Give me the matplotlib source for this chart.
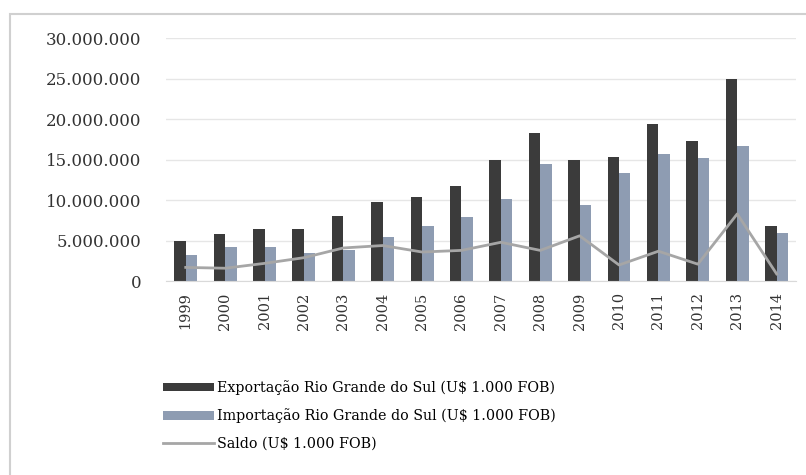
import numpy as np
import matplotlib.pyplot as plt
from matplotlib.patches import Rectangle
from matplotlib.ticker import FuncFormatter

anos = ['1999', '2000', '2001', '2002', '2003', '2004', '2005', '2006',
        '2007', '2008', '2009', '2010', '2011', '2012', '2013', '2014']
exportacao = [5.0, 5.8, 6.4, 6.4, 8.0, 9.8, 10.4, 11.7,
              14.9, 18.3, 15.0, 15.3, 19.4, 17.3, 25.0, 6.8]
importacao = [3.2, 4.2, 4.2, 3.5, 3.9, 5.4, 6.8, 7.9,
              10.1, 14.5, 9.4, 13.3, 15.7, 15.2, 16.7, 5.9]
saldo = [1.7, 1.6, 2.2, 2.9, 4.1, 4.4, 3.6, 3.8,
         4.8, 3.8, 5.6, 2.0, 3.7, 2.1, 8.3, 0.9]

# valores em milhoes (U$ 1.000 FOB)
exportacao = np.array(exportacao) * 1e6
importacao = np.array(importacao) * 1e6
saldo = np.array(saldo) * 1e6

plt.rcParams['font.family'] = ['DejaVu Serif']

fig = plt.figure(figsize=(8.06, 4.75), dpi=100)
ax = fig.add_axes([0.206, 0.408, 0.782, 0.512])

x = np.arange(len(anos))
w = 0.29
b1 = ax.bar(x - w / 2, exportacao, width=w, color='#3b3b3b',
            label='Exportação Rio Grande do Sul (U$ 1.000 FOB)', zorder=2)
b2 = ax.bar(x + w / 2, importacao, width=w, color='#8e9cb2',
            label='Importação Rio Grande do Sul (U$ 1.000 FOB)', zorder=2)
l1, = ax.plot(x, saldo, color='#a6a6a6', lw=2, label='Saldo (U$ 1.000 FOB)', zorder=3)

ax.set_xlim(-0.5, len(anos) - 0.5)
ax.set_ylim(0, 30e6)
ax.set_yticks(np.arange(0, 30e6 + 1, 5e6))
ax.yaxis.set_major_formatter(FuncFormatter(lambda v, p: f'{int(v):,}'.replace(',', '.')))
ax.set_xticks(x)
ax.set_xticklabels(anos, rotation=90, fontsize=10.5, color='#333333')
ax.tick_params(axis='y', labelsize=12, colors='#333333', length=0, pad=18)
ax.tick_params(axis='x', length=0, pad=8)
ax.grid(axis='y', color='#e6e6e6', lw=1, zorder=0)
for s in ['top', 'right', 'left']:
    ax.spines[s].set_visible(False)
ax.spines['bottom'].set_color('#d9d9d9')

fig.legend(handles=[b1, b2, l1], loc='upper left', bbox_to_anchor=(0.195, 0.212),
           frameon=False, fontsize=10.3, handlelength=3.6, handleheight=0.55,
           labelspacing=0.95, handletextpad=0.15, borderaxespad=0)

fig.patches.append(Rectangle((0.012, -0.01), 1.0, 0.98, transform=fig.transFigure,
                             fill=False, edgecolor='#d0d0d0', lw=1.5))

fig.savefig('out.png', dpi=100)
